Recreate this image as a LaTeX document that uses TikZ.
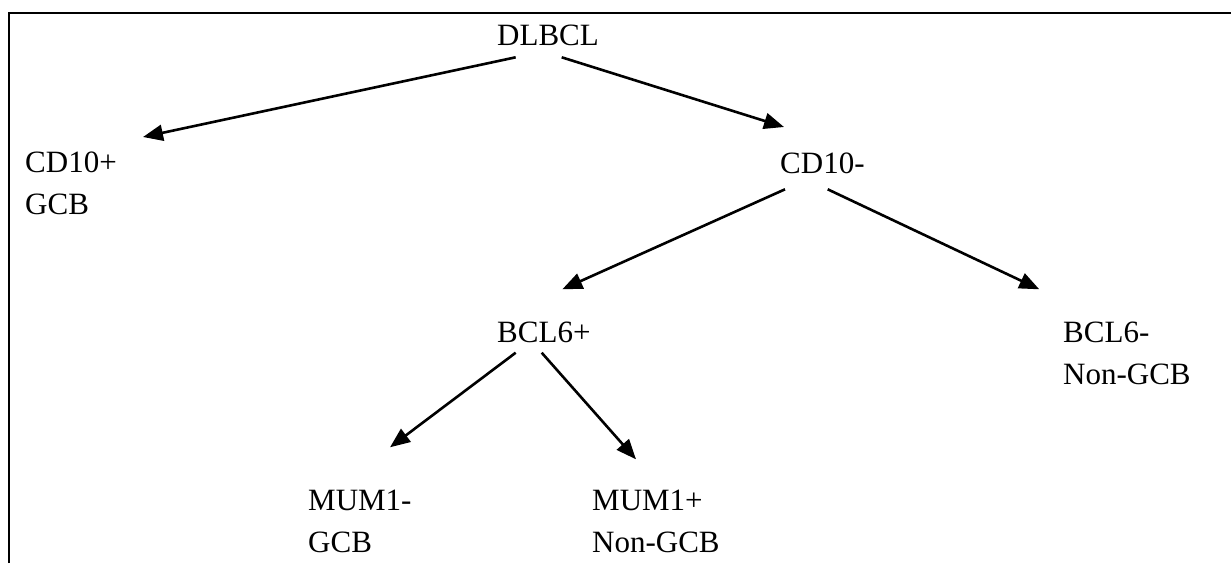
\documentclass[tikz,border=0pt]{standalone}
\usepackage{fontspec}
\setmainfont{Liberation Serif}
\usetikzlibrary{arrows.meta}
\begin{document}
\begin{tikzpicture}[x=1pt,y=-1pt,
  lbl/.style={anchor=base west,inner sep=0pt,align=left,
    font=\fontsize{31}{42}\selectfont},
  arr/.style={line width=2.6pt,-{Triangle[length=20pt,width=16pt]}},
  frame/.style={line width=2.2pt}]
\useasboundingbox[fill=white] (0,0) rectangle (1231,563);
\draw[frame] (9,563) -- (9,13) -- (1231,13);
% single-line labels anchored at their baseline; two-line labels at the last baseline
\node[lbl] (dlbcl) at (497,45) {DLBCL};
\node[lbl] (cdp) at (25,214) {CD10+\\GCB};
\node[lbl] (cdm) at (780,173) {CD10-};
\node[lbl] (bcp) at (497,342) {BCL6+};
\node[lbl] (bcm) at (1063,384) {BCL6-\\Non-GCB};
\node[lbl] (mum) at (308,552) {MUM1-\\GCB};
\node[lbl] (mup) at (592,552) {MUM1+\\Non-GCB};
\draw[arr] ([shift={(18.7,12.3)}]dlbcl.base west) -- ([shift={(118,-77)}]cdp.base west);
\draw[arr] ([shift={(64.7,12.3)}]dlbcl.base west) -- ([shift={(4,-46)}]cdm.base west);
\draw[arr] ([shift={(5,16.3)}]cdm.base west) -- ([shift={(65.3,-52.7)}]bcp.base west);
\draw[arr] ([shift={(47.7,16.3)}]cdm.base west) -- ([shift={(-23.7,-94.7)}]bcm.base west);
\draw[arr] ([shift={(18.7,10.7)}]bcp.base west) -- ([shift={(82,-104.7)}]mum.base west);
\draw[arr] ([shift={(44.7,10.7)}]bcp.base west) -- ([shift={(44,-92.7)}]mup.base west);
\end{tikzpicture}
\end{document}
